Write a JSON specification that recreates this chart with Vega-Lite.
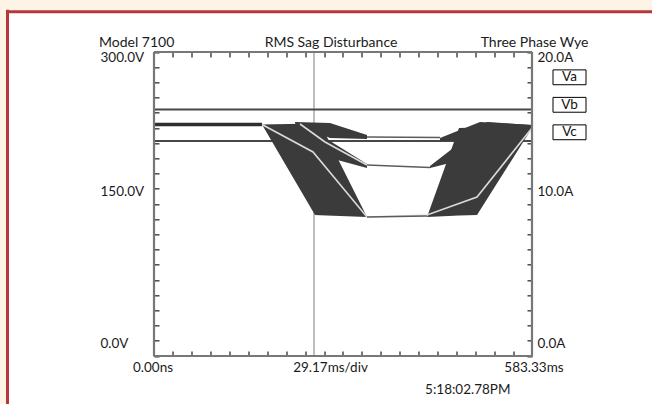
{
  "$schema": "https://vega.github.io/schema/vega-lite/v6.json",
  "width": 644.5,
  "height": 392.7,
  "autosize": {"type": "none"},
  "padding": {"left": 7.5, "top": 11.3, "right": 0, "bottom": 0},
  "background": "#fdf4e6",
  "config": {
    "view": {"fill": "white", "stroke": null},
    "axis": {
      "domain": false, "grid": false, "tickSize": -5, "tickColor": "#4a4a4a", "tickWidth": 1.5,
      "labelFont": "Lato", "labelFontSize": 13.5, "labelColor": "#1b1b1b", "labelFlush": false, "labelOverlap": false,
      "titleFont": "Lato", "titleFontSize": 13.5, "titleFontWeight": "normal", "titleColor": "#1b1b1b"
    }
  },
  "resolve": {"axis": {"x": "independent", "y": "independent"}},
  "layer": [
    {
      "data": {"values": [{}]},
      "mark": {"type": "rule", "stroke": "#a8a8a8", "strokeWidth": 1.5},
      "encoding": {
        "x": {"datum": 246.9, "type": "quantitative", "scale": {"domain": [-226.08, 768.52], "nice": false, "zero": false}, "axis": null},
        "y": {"datum": 0, "type": "quantitative", "scale": {"domain": [-47.37, 340.16], "nice": false, "zero": false}, "axis": null},
        "y2": {"datum": 300}
      }
    },
    {
      "data": {"values": [{}]},
      "mark": {"type": "rule", "stroke": "#b6383c", "strokeWidth": 3, "strokeCap": "square"},
      "encoding": {
        "x": {"datum": -226.08, "type": "quantitative", "scale": {"domain": [-226.08, 768.52], "nice": false, "zero": false}, "axis": null},
        "y": {"datum": -47.37, "type": "quantitative", "scale": {"domain": [-47.37, 340.16], "nice": false, "zero": false}, "axis": null},
        "y2": {"datum": 340.16}
      }
    },
    {
      "data": {"values": [{"t": 0, "t2": 583.33, "v": 243.26}, {"t": 0, "t2": 583.33, "v": 212.17}]},
      "mark": {"type": "rule", "stroke": "#474747", "strokeWidth": 1.8},
      "encoding": {
        "x": {"field": "t", "type": "quantitative", "scale": {"domain": [-226.08, 768.52], "nice": false, "zero": false}, "axis": null},
        "x2": {"field": "t2"},
        "y": {"field": "v", "type": "quantitative", "scale": {"domain": [-47.37, 340.16], "nice": false, "zero": false}, "axis": null}
      }
    },
    {
      "data": {"values": [{"t": 0, "t2": 166.67, "v": 228.45}]},
      "mark": {"type": "rule", "stroke": "#2f2f2f", "strokeWidth": 3.5},
      "encoding": {
        "x": {"field": "t", "type": "quantitative", "scale": {"domain": [-226.08, 768.52], "nice": false, "zero": false}, "axis": null},
        "x2": {"field": "t2"},
        "y": {"field": "v", "type": "quantitative", "scale": {"domain": [-47.37, 340.16], "nice": false, "zero": false}, "axis": null}
      }
    },
    {
      "data": {"values": [
        {"phase": "Va", "seg": "AL", "t": 166.67, "v": 228.45, "v2": 228.45},
        {"phase": "Va", "seg": "AL", "t": 248.46, "v": 229.5, "v2": 139.14},
        {"phase": "Va", "seg": "AL", "t": 256.17, "v": 229.93, "v2": 138.9},
        {"phase": "Va", "seg": "AL", "t": 328.70, "v": 137.17, "v2": 137.17},
        {"phase": "Vb", "seg": "BL", "t": 225.31, "v": 229.93, "v2": 227.96},
        {"phase": "Vb", "seg": "BL", "t": 271.60, "v": 212.17, "v2": 195.4},
        {"phase": "Vb", "seg": "BL", "t": 328.70, "v": 189.47, "v2": 185.53},
        {"phase": "Vc", "seg": "CL", "t": 217.59, "v": 230.92, "v2": 229.43},
        {"phase": "Vc", "seg": "CL", "t": 271.60, "v": 229.93, "v2": 215.13},
        {"phase": "Vc", "seg": "CL", "t": 328.70, "v": 218.1, "v2": 214.14},
        {"phase": "Va", "seg": "AR", "t": 421.30, "v": 137.17, "v2": 137.17},
        {"phase": "Va", "seg": "AR", "t": 470.68, "v": 225.0, "v2": 138.7},
        {"phase": "Va", "seg": "AR", "t": 498.46, "v": 225.39, "v2": 139.14},
        {"phase": "Va", "seg": "AR", "t": 583.33, "v": 226.97, "v2": 225.0},
        {"phase": "Vb", "seg": "BR", "t": 425.93, "v": 187.5, "v2": 185.53},
        {"phase": "Vb", "seg": "BR", "t": 487.65, "v": 218.0, "v2": 195.4},
        {"phase": "Vb", "seg": "BR", "t": 513.89, "v": 230.92, "v2": 205.0},
        {"phase": "Vb", "seg": "BR", "t": 583.33, "v": 227.96, "v2": 225.0},
        {"phase": "Vc", "seg": "CR", "t": 441.36, "v": 215.13, "v2": 212.17},
        {"phase": "Vc", "seg": "CR", "t": 503.09, "v": 230.92, "v2": 213.16},
        {"phase": "Vc", "seg": "CR", "t": 583.33, "v": 227.96, "v2": 225.0}
      ]},
      "mark": {"type": "area", "fill": "#3b3b3b", "interpolate": "linear"},
      "encoding": {
        "x": {"field": "t", "type": "quantitative", "scale": {"domain": [-226.08, 768.52], "nice": false, "zero": false},
          "axis": {
            "orient": "bottom", "offset": -48,
            "values": [0, 29.1667, 58.3333, 87.5, 116.6667, 145.8333, 175, 204.1667, 233.3333, 262.5, 291.6667, 320.8333, 350, 379.1667, 408.3333, 437.5, 466.6667, 495.8333, 525, 554.1667, 583.3333],
            "labelExpr": "datum.value < 1 ? '0.00ns' : abs(datum.value - 291.667) < 1 ? '29.17ms/div' : datum.value > 583 ? '583.33ms' : ''",
            "labelPadding": 9, "labelBaseline": "top",
            "labelOffset": {"condition": [{"test": "abs(datum.value - 291.667) < 1", "value": -13}, {"test": "datum.value > 583", "value": 1.5}], "value": -1.5},
            "title": "5:18:02.78PM", "titleX": 502.5, "titleY": 37, "titleAlign": "right", "titleBaseline": "alphabetic", "titleAngle": 0
          }
        },
        "y": {"field": "v", "type": "quantitative", "scale": {"domain": [-47.37, 340.16], "nice": false, "zero": false},
          "axis": {
            "orient": "left", "offset": -146.5,
            "values": [0, 15, 30, 45, 60, 75, 90, 105, 120, 135, 150, 165, 180, 195, 210, 225, 240, 255, 270, 285, 300],
            "labelExpr": "datum.value == 0 ? '0.0V' : datum.value == 150 ? '150.0V' : datum.value == 300 ? '300.0V' : ''",
            "labelAlign": "left", "labelPadding": 59, "labelBaseline": "middle",
            "labelOffset": {"condition": {"test": "datum.value == 300", "value": 6}, "value": -12.5},
            "title": null
          }
        },
        "y2": {"field": "v2"},
        "detail": {"field": "seg"},
        "color": {"field": "phase", "type": "nominal",
          "scale": {"domain": ["Va", "Vb", "Vc"], "range": ["white", "white", "white"]},
          "legend": {
            "orient": "none", "legendX": 545, "legendY": 49, "title": null, "padding": 0,
            "symbolType": "M-1,-0.45H1V0.45H-1Z", "symbolSize": 1089, "symbolStrokeColor": "black", "symbolStrokeWidth": 1,
            "labelAlign": "center", "labelOffset": -17, "labelFont": "Lato", "labelFontSize": 13.5, "labelColor": "#111111",
            "rowPadding": 0.5
          }
        }
      }
    },
    {
      "data": {"values": [
        {"seg": "TA", "t": 166.67, "v": 228.45},
        {"seg": "TA", "t": 245.37, "v": 201.32},
        {"seg": "TA", "t": 328.70, "v": 137.17},
        {"seg": "TA", "t": 421.30, "v": 139.14},
        {"seg": "TA", "t": 498.46, "v": 156.91},
        {"seg": "TA", "t": 583.33, "v": 225.0},
        {"seg": "TB", "t": 225.31, "v": 228.95},
        {"seg": "TB", "t": 263.89, "v": 211.18},
        {"seg": "TB", "t": 328.70, "v": 188.49}
      ]},
      "mark": {"type": "line", "stroke": "#dadada", "strokeWidth": 1.6},
      "encoding": {
        "x": {"field": "t", "type": "quantitative", "scale": {"domain": [-226.08, 768.52], "nice": false, "zero": false},
          "axis": {
            "orient": "top", "offset": -40.7,
            "values": [0, 29.1667, 58.3333, 87.5, 116.6667, 145.8333, 175, 204.1667, 233.3333, 262.5, 291.6667, 320.8333, 350, 379.1667, 408.3333, 437.5, 466.6667, 495.8333, 525, 554.1667, 583.3333],
            "labelExpr": "datum.value < 1 ? 'Model 7100' : abs(datum.value - 291.667) < 1 ? 'RMS Sag Disturbance' : datum.value > 583 ? 'Three Phase Wye' : ''",
            "labelAlign": {"condition": [{"test": "datum.value < 1", "value": "left"}, {"test": "datum.value > 583", "value": "right"}], "value": "center"},
            "labelOffset": {"condition": [{"test": "datum.value < 1", "value": -55.5}, {"test": "datum.value > 583", "value": 56}], "value": -12.5},
            "labelBaseline": "alphabetic", "labelPadding": 10.5, "labelFontSize": 14,
            "title": null
          }
        },
        "y": {"field": "v", "type": "quantitative", "scale": {"domain": [-47.37, 340.16], "nice": false, "zero": false},
          "axis": {
            "orient": "right", "offset": -120,
            "values": [0, 15, 30, 45, 60, 75, 90, 105, 120, 135, 150, 165, 180, 195, 210, 225, 240, 255, 270, 285, 300],
            "labelExpr": "datum.value == 0 ? '0.0A' : datum.value == 150 ? '10.0A' : datum.value == 300 ? '20.0A' : ''",
            "labelAlign": "left", "labelPadding": 10, "labelBaseline": "middle",
            "labelOffset": {"condition": {"test": "datum.value == 300", "value": 6}, "value": -12.5},
            "title": null
          }
        },
        "detail": {"field": "seg"}
      }
    },
    {
      "data": {"values": [
        {"seg": "LA", "t": 328.70, "v": 137.17},
        {"seg": "LA", "t": 421.30, "v": 138.15},
        {"seg": "LB", "t": 328.70, "v": 188.49},
        {"seg": "LB", "t": 425.93, "v": 186.0},
        {"seg": "LC", "t": 328.70, "v": 216.12},
        {"seg": "LC", "t": 441.36, "v": 215.6}
      ]},
      "mark": {"type": "line", "stroke": "#5c5c5c", "strokeWidth": 1.6},
      "encoding": {
        "x": {"field": "t", "type": "quantitative", "scale": {"domain": [-226.08, 768.52], "nice": false, "zero": false},
          "axis": {"orient": "top", "offset": 0, "domain": true, "domainColor": "#b6383c", "domainWidth": 3, "domainCap": "square", "ticks": false, "labels": false, "title": null}},
        "y": {"field": "v", "type": "quantitative", "scale": {"domain": [-47.37, 340.16], "nice": false, "zero": false}, "axis": null},
        "detail": {"field": "seg"}
      }
    },
    {
      "data": {"values": [{}]},
      "mark": {"type": "rule", "stroke": "#777777", "strokeWidth": 2.2},
      "encoding": {
        "x": {"datum": 0, "type": "quantitative", "scale": {"domain": [-226.08, 768.52], "nice": false, "zero": false}, "axis": null},
        "y": {"datum": 0, "type": "quantitative", "scale": {"domain": [-47.37, 340.16], "nice": false, "zero": false}, "axis": null},
        "y2": {"datum": 300}
      }
    },
    {
      "data": {"values": [{}]},
      "mark": {"type": "rule", "stroke": "#777777", "strokeWidth": 2.2},
      "encoding": {
        "x": {"datum": 583.33, "type": "quantitative", "scale": {"domain": [-226.08, 768.52], "nice": false, "zero": false}, "axis": null},
        "y": {"datum": 0, "type": "quantitative", "scale": {"domain": [-47.37, 340.16], "nice": false, "zero": false}, "axis": null},
        "y2": {"datum": 300}
      }
    },
    {
      "data": {"values": [{}]},
      "mark": {"type": "rule", "stroke": "#777777", "strokeWidth": 2.2},
      "encoding": {
        "y": {"datum": 0, "type": "quantitative", "scale": {"domain": [-47.37, 340.16], "nice": false, "zero": false}, "axis": null},
        "x": {"datum": 0, "type": "quantitative", "scale": {"domain": [-226.08, 768.52], "nice": false, "zero": false}, "axis": null},
        "x2": {"datum": 583.33}
      }
    },
    {
      "data": {"values": [{}]},
      "mark": {"type": "rule", "stroke": "#777777", "strokeWidth": 2.2},
      "encoding": {
        "y": {"datum": 300, "type": "quantitative", "scale": {"domain": [-47.37, 340.16], "nice": false, "zero": false}, "axis": null},
        "x": {"datum": 0, "type": "quantitative", "scale": {"domain": [-226.08, 768.52], "nice": false, "zero": false}, "axis": null},
        "x2": {"datum": 583.33}
      }
    }
  ]
}
